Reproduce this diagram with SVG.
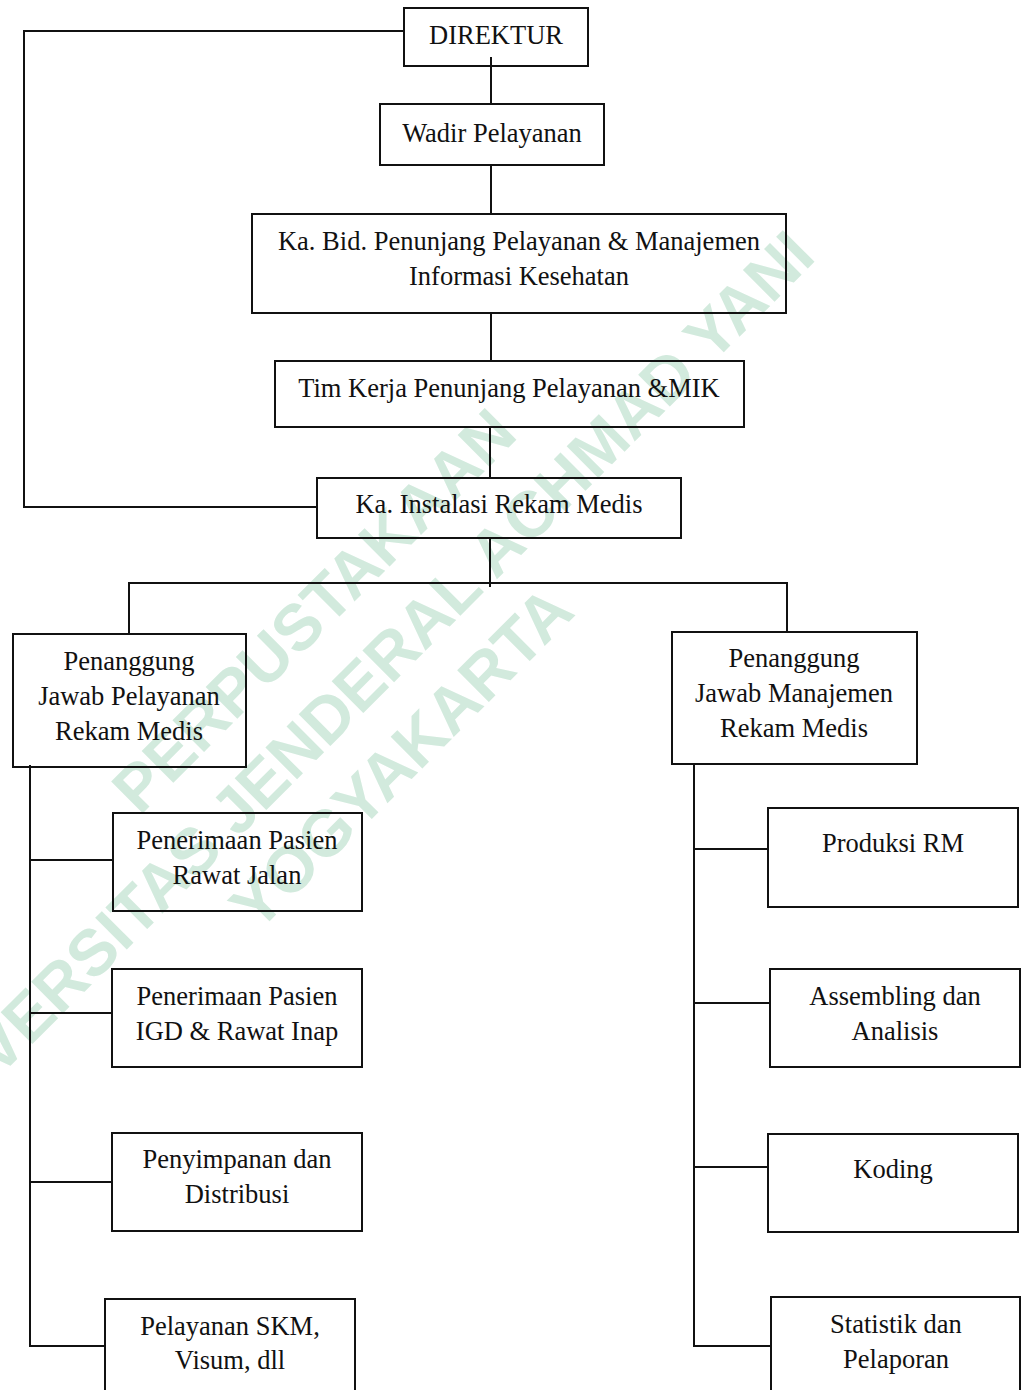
<svg xmlns="http://www.w3.org/2000/svg" width="1022" height="1390" viewBox="0 0 1022 1390">
<style>
.box{fill:none;stroke:#111;stroke-width:2}
.ln{fill:none;stroke:#111;stroke-width:2}
.t{font-family:"Liberation Serif","Times New Roman",serif;font-size:26.5px;fill:#111;text-anchor:middle}
.wm{font-family:"Liberation Sans",Arial,sans-serif;font-weight:bold;font-size:65px;fill:#d2eadd;text-anchor:middle}
</style>
<rect x="0" y="0" width="1022" height="1390" fill="#fff"/>
<g id="watermark" transform="rotate(-45)">
<text class="wm" x="-210" y="676">PERPUSTAKAAN</text>
<text class="wm" x="-240" y="761">UNIVERSITAS JENDERAL ACHMAD YANI</text>
<text class="wm" x="-252" y="842">YOGYAKARTA</text>
</g>
<g id="connectors">
<polyline class="ln" points="404,31 24,31 24,507 317,507"/>
<line class="ln" x1="491" y1="57" x2="491" y2="104"/>
<line class="ln" x1="491" y1="165" x2="491" y2="214"/>
<line class="ln" x1="491" y1="313" x2="491" y2="361"/>
<line class="ln" x1="490" y1="427" x2="490" y2="478"/>
<line class="ln" x1="490" y1="538" x2="490" y2="587"/>
<polyline class="ln" points="129,634 129,583 787,583 787,632"/>
<line class="ln" x1="30" y1="765" x2="30" y2="1347"/>
<line class="ln" x1="30" y1="860" x2="113" y2="860"/>
<line class="ln" x1="30" y1="1013" x2="112" y2="1013"/>
<line class="ln" x1="30" y1="1182" x2="112" y2="1182"/>
<line class="ln" x1="30" y1="1346" x2="105" y2="1346"/>
<line class="ln" x1="694" y1="764" x2="694" y2="1347"/>
<line class="ln" x1="694" y1="849" x2="768" y2="849"/>
<line class="ln" x1="694" y1="1003" x2="770" y2="1003"/>
<line class="ln" x1="694" y1="1167" x2="768" y2="1167"/>
<line class="ln" x1="694" y1="1346" x2="771" y2="1346"/>
</g>
<g id="direktur"><rect class="box" x="404" y="8" width="184" height="58"/><text class="t" x="496" y="44">DIREKTUR</text></g>
<g id="wadir"><rect class="box" x="380" y="104" width="224" height="61"/><text class="t" x="492" y="142">Wadir Pelayanan</text></g>
<g id="kabid"><rect class="box" x="252" y="214" width="534" height="99"/><text class="t" x="519" y="250">Ka. Bid. Penunjang Pelayanan &amp; Manajemen</text><text class="t" x="519" y="285">Informasi Kesehatan</text></g>
<g id="timkerja"><rect class="box" x="275" y="361" width="469" height="66"/><text class="t" x="509" y="397">Tim Kerja Penunjang Pelayanan &amp;MIK</text></g>
<g id="kainstalasi"><rect class="box" x="317" y="478" width="364" height="60"/><text class="t" x="499" y="513">Ka. Instalasi Rekam Medis</text></g>
<g id="pj-pelayanan"><rect class="box" x="13" y="634" width="233" height="133"/><text class="t" x="129" y="670">Penanggung</text><text class="t" x="129" y="705">Jawab Pelayanan</text><text class="t" x="129" y="740">Rekam Medis</text></g>
<g id="pj-manajemen"><rect class="box" x="672" y="632" width="245" height="132"/><text class="t" x="794" y="667">Penanggung</text><text class="t" x="794" y="702">Jawab Manajemen</text><text class="t" x="794" y="737">Rekam Medis</text></g>
<g id="rawat-jalan"><rect class="box" x="113" y="813" width="249" height="98"/><text class="t" x="237" y="849">Penerimaan Pasien</text><text class="t" x="237" y="884">Rawat Jalan</text></g>
<g id="igd"><rect class="box" x="112" y="969" width="250" height="98"/><text class="t" x="237" y="1005">Penerimaan Pasien</text><text class="t" x="237" y="1040">IGD &amp; Rawat Inap</text></g>
<g id="penyimpanan"><rect class="box" x="112" y="1133" width="250" height="98"/><text class="t" x="237" y="1168">Penyimpanan dan</text><text class="t" x="237" y="1203">Distribusi</text></g>
<g id="skm"><rect class="box" x="105" y="1299" width="250" height="110"/><text class="t" x="230" y="1335">Pelayanan SKM,</text><text class="t" x="230" y="1369">Visum, dll</text></g>
<g id="produksi"><rect class="box" x="768" y="808" width="250" height="99"/><text class="t" x="893" y="852">Produksi RM</text></g>
<g id="assembling"><rect class="box" x="770" y="969" width="250" height="98"/><text class="t" x="895" y="1005">Assembling dan</text><text class="t" x="895" y="1040">Analisis</text></g>
<g id="koding"><rect class="box" x="768" y="1134" width="250" height="98"/><text class="t" x="893" y="1178">Koding</text></g>
<g id="statistik"><rect class="box" x="771" y="1297" width="249" height="110"/><text class="t" x="896" y="1333">Statistik dan</text><text class="t" x="896" y="1368">Pelaporan</text></g>
</svg>
